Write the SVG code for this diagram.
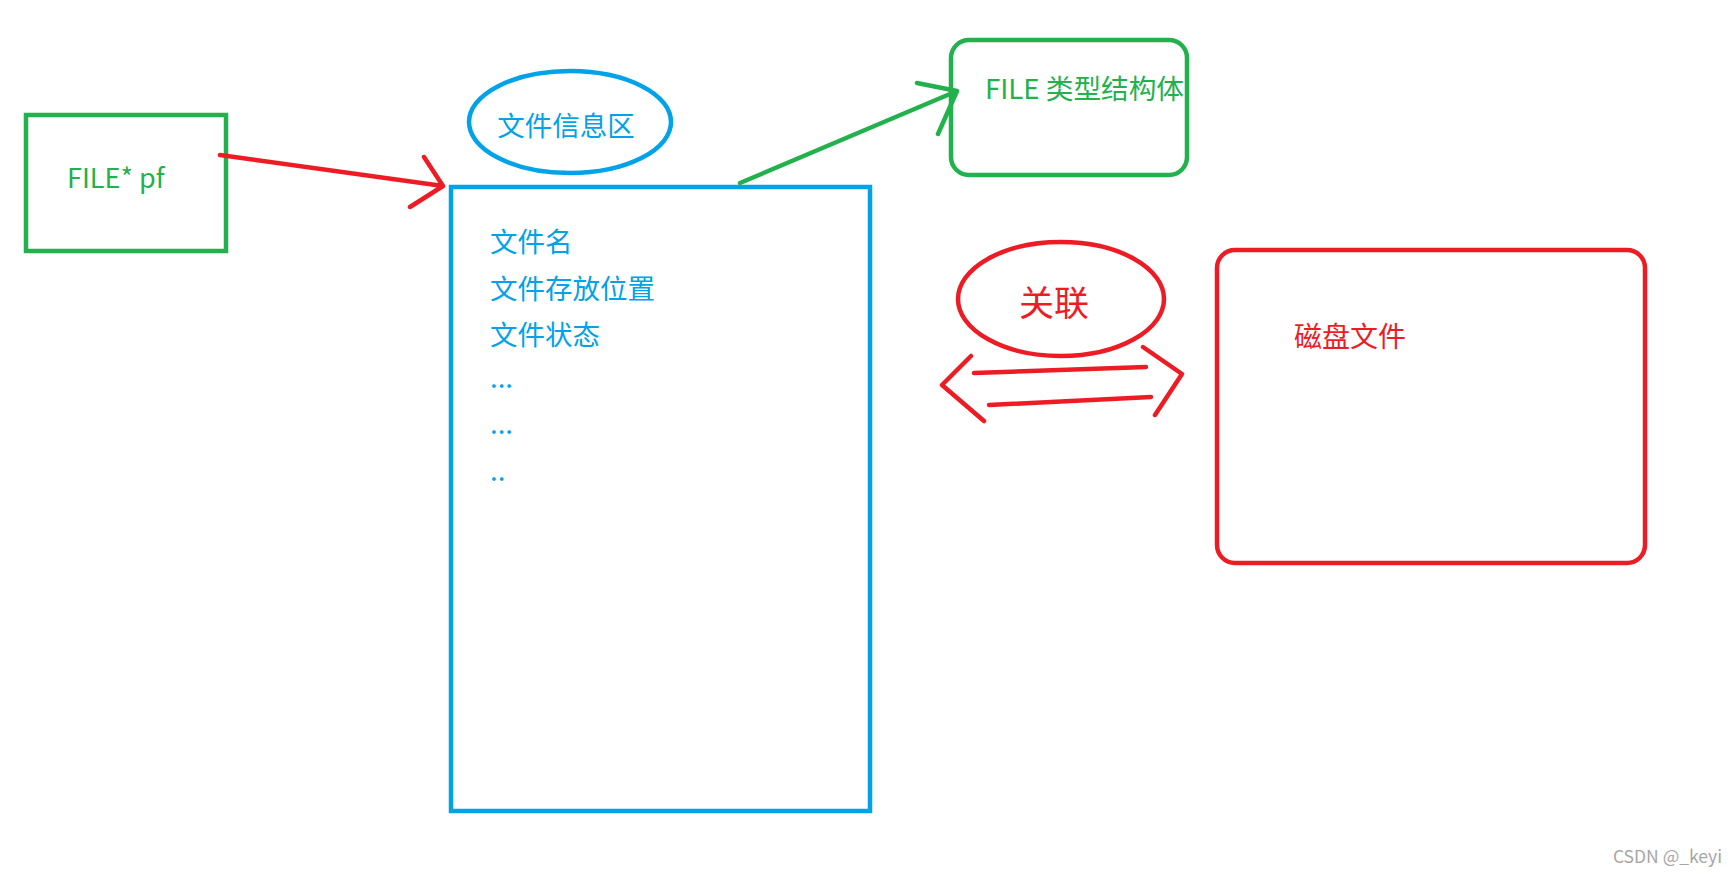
<svg xmlns="http://www.w3.org/2000/svg" width="1736" height="878" viewBox="0 0 1736 878">
<style>
.g{stroke:#22b14c;fill:none;stroke-width:4.5;stroke-linecap:round;stroke-linejoin:round}
.b{stroke:#00a2e8;fill:none;stroke-width:4.5}
.r{stroke:#ed1c24;fill:none;stroke-width:4.5;stroke-linecap:round;stroke-linejoin:round}
text{font-family:"Microsoft YaHei","Noto Sans CJK SC","Noto Sans",sans-serif}
.tg{fill:#22b14c;font-size:27px}
.tb{fill:#00a2e8;font-size:27.5px}
.tr{fill:#ed1c24}
</style>
<rect width="1736" height="878" fill="#fff"/>
<g id="node-filepf">
<rect x="26" y="115" width="200" height="136" class="g" style="stroke-linecap:butt;stroke-linejoin:miter"/>
<text x="67" y="188" class="tg">FILE* pf</text>
</g>
<g id="node-info-label">
<ellipse cx="570" cy="122" rx="101" ry="51" class="b"/>
<text x="566" y="136" class="tb" text-anchor="middle">文件信息区</text>
</g>
<g id="node-info">
<rect x="451" y="187" width="419" height="624" class="b"/>
<text x="490" y="252" class="tb">文件名</text>
<text x="490" y="299" class="tb">文件存放位置</text>
<text x="490" y="345" class="tb">文件状态</text>
<text x="490" y="388" class="tb">...</text>
<text x="490" y="434" class="tb">...</text>
<text x="490" y="481" class="tb">..</text>
</g>
<g id="node-filestruct">
<rect x="951" y="40" width="236" height="135" rx="18" class="g"/>
<text x="985" y="99" class="tg" style="font-size:27.5px" textLength="199" lengthAdjust="spacingAndGlyphs">FILE 类型结构体</text>
</g>
<g id="node-assoc">
<ellipse cx="1061" cy="299" rx="103" ry="57" class="r"/>
<text x="1054" y="316" class="tr" text-anchor="middle" style="font-size:35px">关联</text>
</g>
<g id="node-disk">
<rect x="1217" y="250" width="428" height="313" rx="18" class="r"/>
<text x="1294" y="347" class="tr" style="font-size:28px">磁盘文件</text>
</g>
<g id="connectors">
<path d="M220 155 L443 186 M424 157 L443 186 L410 207" class="r"/>
<path d="M740 183 L957 91 M917 83 L957 91 L938 134" class="g"/>
<path d="M974 373 L1146 367 M971 356 L942 385 L984 421" class="r"/>
<path d="M989 405 L1151 397 M1143 347 L1182 374 L1155 415" class="r"/>
</g>
<text x="1722" y="863" text-anchor="end" style="font-size:17.5px;fill:#a6a6a6">CSDN @_keyi</text>
</svg>
